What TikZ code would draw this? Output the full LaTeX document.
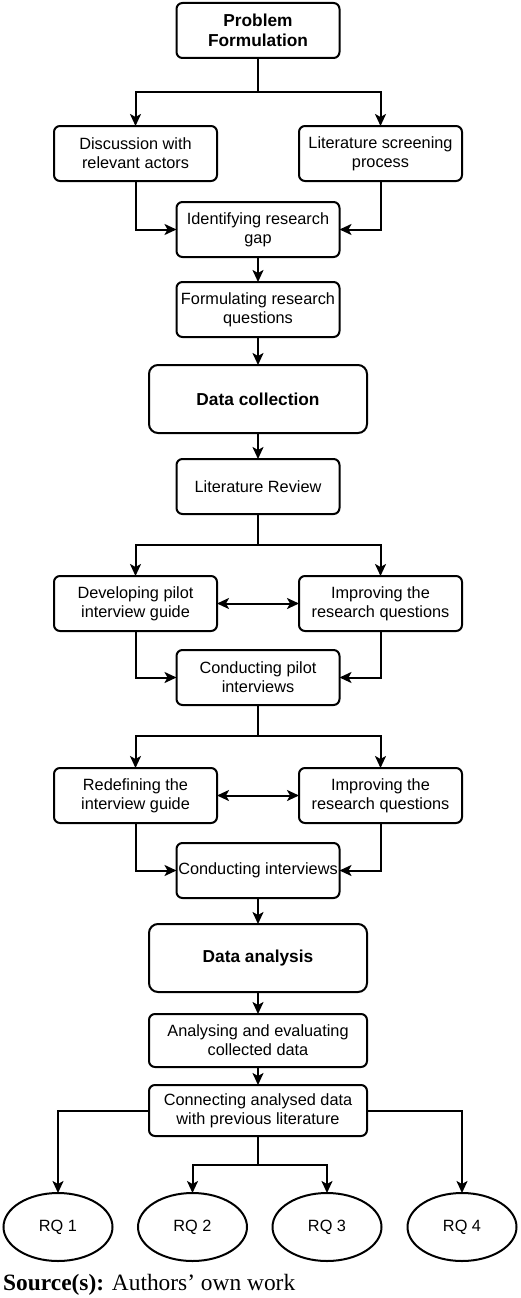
\documentclass[tikz,border=0pt]{standalone}
\usepackage{fontspec}
\setmainfont{Liberation Sans}
\newfontfamily\srcfont{Liberation Serif}
\usetikzlibrary{positioning, arrows.meta, shapes}

\begin{document}
\begin{tikzpicture}[
	box/.style={draw, line width=2pt, rounded corners=6pt, minimum width=163pt, minimum height=55pt, inner xsep=1pt, outer sep=0pt, align=center, font=\fontsize{16.3}{19}\selectfont},
	bigbox/.style={box, rounded corners=9pt, minimum width=218pt, minimum height=68pt, font=\fontsize{17.3}{20}\selectfont\bfseries},
	widebox/.style={box, minimum width=218pt, minimum height=52pt},
	rq/.style={draw, ellipse, line width=2pt, minimum width=109pt, minimum height=68pt, inner sep=0pt, outer sep=0pt, font=\fontsize{16.3}{19}\selectfont},
	arr/.style={-{Stealth[length=12pt, width=11pt, inset=3pt]}, line width=2pt},
	dblarr/.style={{Stealth[length=12pt, width=11pt, inset=3pt]}-{Stealth[length=12pt, width=11pt, inset=3pt]}, line width=2pt}]

		\useasboundingbox (0,0) rectangle (520pt,-1298pt);

		% nodes - problem formulation %
		\node[box, font=\fontsize{17.3}{20}\selectfont\bfseries] (prob) at (258pt,-30.5pt) {Problem\\Formulation};
		\node[box, below=68pt of prob, xshift=-122.5pt] (disc) {Discussion with\\relevant actors};
		\node[box, below=68pt of prob, xshift=122.5pt] (screen) {Literature screening\\process};
		\node[box, below=144pt of prob] (gap) {Identifying research\\gap};
		\node[box, below=25pt of gap] (formq) {Formulating research\\questions};

		% nodes - data collection %
		\node[bigbox, below=28pt of formq] (datacol) {Data collection};
		\node[box, below=26pt of datacol] (litrev) {Literature Review};
		\node[box, below=62pt of litrev, xshift=-122.5pt] (devguide) {Developing pilot\\interview guide};
		\node[box, below=62pt of litrev, xshift=122.5pt] (imprq) {Improving the\\research questions};
		\node[box, below=136pt of litrev] (pilot) {Conducting pilot\\interviews};
		\node[box, below=63pt of pilot, xshift=-122.5pt] (redef) {Redefining the\\interview guide};
		\node[box, below=63pt of pilot, xshift=122.5pt] (imprqb) {Improving the\\research questions};
		\node[box, below=138pt of pilot] (interv) {Conducting interviews};

		% nodes - data analysis %
		\node[bigbox, below=26pt of interv] (dataan) {Data analysis};
		\node[widebox, minimum height=53pt, below=22pt of dataan] (evaluate) {Analysing and evaluating\\collected data};
		\node[widebox, minimum height=51pt, below=18pt of evaluate] (connect) {Connecting analysed data\\with previous literature};
		\node[rq, below=57pt of connect, xshift=-200pt] (rq1) {RQ 1};
		\node[rq, below=57pt of connect, xshift=-65.5pt] (rq2) {RQ 2};
		\node[rq, below=57pt of connect, xshift=69pt] (rq3) {RQ 3};
		\node[rq, below=57pt of connect, xshift=204pt] (rq4) {RQ 4};

		\node[anchor=base west, inner sep=0pt, font=\srcfont\fontsize{23.4}{28}\selectfont] (src) at (3pt,-1290pt) {\textbf{Source(s):} Authors’ own work};

		% edges %
		\draw[arr] (prob.south) -- ++(0,-34pt) -| (disc);
		\draw[arr] (prob.south) -- ++(0,-34pt) -| (screen);
		\draw[arr] (disc) |- (gap);
		\draw[arr] (screen) |- (gap);
		\draw[arr] (gap) -- (formq);
		\draw[arr] (formq) -- (datacol);
		\draw[arr] (datacol) -- (litrev);

		\draw[arr] (litrev.south) -- ++(0,-31pt) -| (devguide);
		\draw[arr] (litrev.south) -- ++(0,-31pt) -| (imprq);
		\draw[dblarr] (devguide) -- (imprq);
		\draw[arr] (devguide) |- (pilot);
		\draw[arr] (imprq) |- (pilot);

		\draw[arr] (pilot.south) -- ++(0,-31pt) -| (redef);
		\draw[arr] (pilot.south) -- ++(0,-31pt) -| (imprqb);
		\draw[dblarr] (redef) -- (imprqb);
		\draw[arr] (redef) |- (interv);
		\draw[arr] (imprqb) |- (interv);

		\draw[arr] (interv) -- (dataan);
		\draw[arr] (dataan) -- (evaluate);
		\draw[arr] (evaluate) -- (connect);
		\draw[arr] (connect) -| (rq1);
		\draw[arr] (connect) -| (rq4);
		\draw[arr] (connect.south) -- ++(0,-29pt) -| (rq2);
		\draw[arr] (connect.south) -- ++(0,-29pt) -| (rq3);

\end{tikzpicture}
\end{document}
